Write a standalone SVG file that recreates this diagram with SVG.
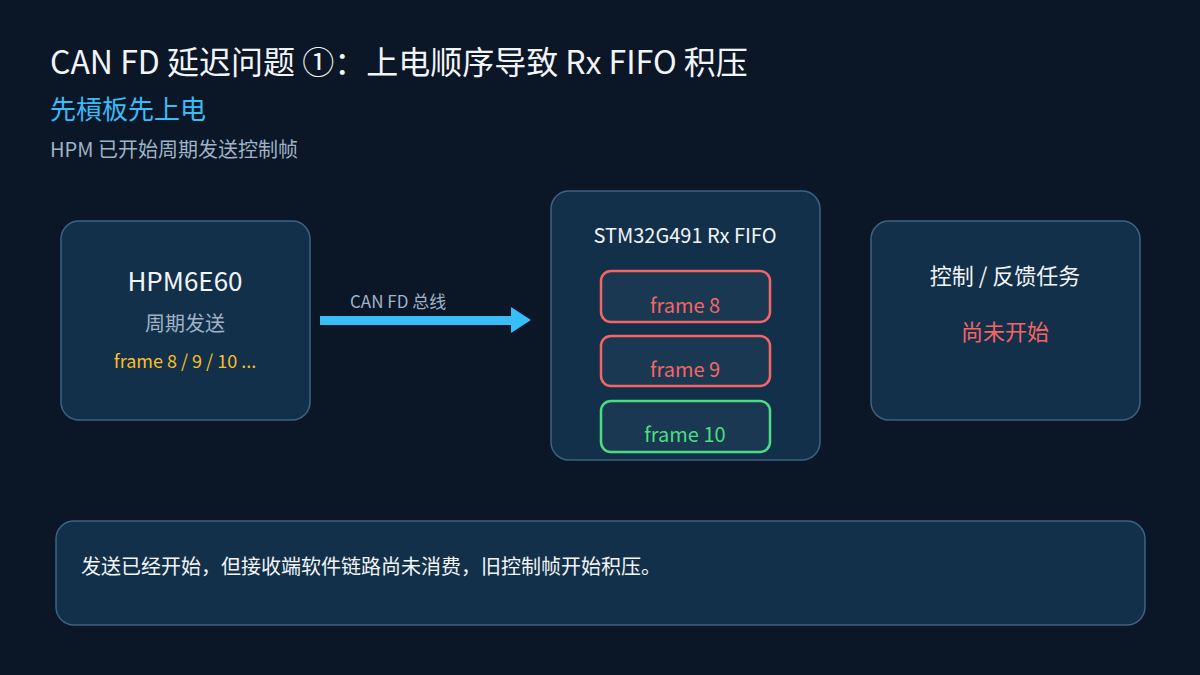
<svg xmlns="http://www.w3.org/2000/svg" width="1200" height="675" viewBox="0 0 1200 675">
<style>
text{font-family:"Noto Sans CJK SC","Noto Sans",sans-serif}
.box{fill:#12304a;stroke:#3f6382;stroke-width:1.5}
.fr{fill:#1a3852;stroke-width:2.5}
</style>
<rect width="1200" height="675" fill="#0b1626"/>
<text x="50" y="74" font-size="32" fill="#f2f5f8">CAN FD 延迟问题 ①：上电顺序导致 Rx FIFO 积压</text>
<text x="50" y="119" font-size="26" fill="#38bdf8">先槓板先上电</text>
<text x="50" y="157" font-size="20" fill="#9fb3c8">HPM 已开始周期发送控制帧</text>
<g id="hpm"><rect class="box" x="61" y="221" width="249" height="199" rx="18"/>
<text x="185" y="291" font-size="26" fill="#f2f5f8" text-anchor="middle">HPM6E60</text>
<text x="185" y="331" font-size="20" fill="#9fb3c8" text-anchor="middle">周期发送</text>
<text x="185" y="368" font-size="18" fill="#fbbf24" text-anchor="middle">frame 8 / 9 / 10 ...</text></g>
<g id="fifo"><rect class="box" x="551" y="191" width="269" height="269" rx="18"/>
<text x="685" y="243" font-size="20" fill="#f2f5f8" text-anchor="middle">STM32G491 Rx FIFO</text>
<rect class="fr" x="601" y="271" width="169" height="51" rx="10" stroke="#f56565"/>
<text x="685" y="313" font-size="20" fill="#f56565" text-anchor="middle">frame 8</text>
<rect class="fr" x="601" y="336" width="169" height="50" rx="10" stroke="#f56565"/>
<text x="685" y="377" font-size="20" fill="#f56565" text-anchor="middle">frame 9</text>
<rect class="fr" x="601" y="401" width="169" height="51" rx="10" stroke="#4ade80"/>
<text x="685" y="442" font-size="20" fill="#4ade80" text-anchor="middle">frame 10</text></g>
<g id="task"><rect class="box" x="871" y="221" width="269" height="199" rx="18"/>
<text x="1005" y="284" font-size="22" fill="#f2f5f8" text-anchor="middle">控制 / 反馈任务</text>
<text x="1005" y="340" font-size="22" fill="#f56565" text-anchor="middle">尚未开始</text></g>
<g id="connectors">
<rect x="320" y="316" width="195" height="9" fill="#38bdf8"/>
<polygon points="511,307 531,320 511,333" fill="#38bdf8"/>
<text x="350" y="308" font-size="17" fill="#9fb3c8">CAN FD 总线</text>
</g>
<g id="note"><rect class="box" x="56" y="521" width="1089" height="104" rx="18"/>
<text x="81" y="574" font-size="20" fill="#f2f5f8">发送已经开始，但接收端软件链路尚未消费，旧控制帧开始积压。</text></g>
</svg>
